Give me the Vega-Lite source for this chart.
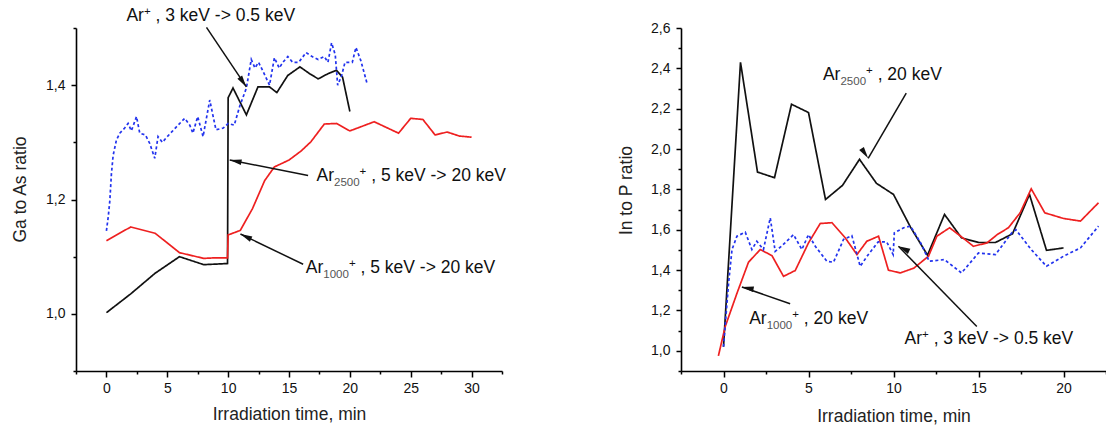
{
  "$schema": "https://vega.github.io/schema/vega-lite/v6.json",
  "autosize": {"type": "none"},
  "padding": {"left": 76, "top": 28, "right": 1030, "bottom": 400},
  "background": "white",
  "config": {
    "view": {"stroke": null},
    "font": "Liberation Sans",
    "axis": {
      "grid": false,
      "domainColor": "#000000",
      "domainWidth": 1.6,
      "tickColor": "#000000",
      "tickWidth": 1.5,
      "labelFont": "Liberation Sans",
      "labelFontSize": 14,
      "labelColor": "#111111",
      "labelFlush": false,
      "labelOverlap": false,
      "titleFont": "Liberation Sans",
      "titleFontSize": 17.5,
      "titleFontWeight": "normal",
      "titleColor": "#222222"
    }
  },
  "spacing": 179,
  "bounds": "flush",
  "datasets": {
    "leftLines": [
      {"series": "Ar2500", "t": 0, "v": 1.002},
      {"series": "Ar2500", "t": 2, "v": 1.035},
      {"series": "Ar2500", "t": 4, "v": 1.071},
      {"series": "Ar2500", "t": 6, "v": 1.1},
      {"series": "Ar2500", "t": 8, "v": 1.086},
      {"series": "Ar2500", "t": 9.95, "v": 1.088},
      {"series": "Ar2500", "t": 10, "v": 1.378},
      {"series": "Ar2500", "t": 10.4, "v": 1.395},
      {"series": "Ar2500", "t": 11.5, "v": 1.348},
      {"series": "Ar2500", "t": 12.45, "v": 1.397},
      {"series": "Ar2500", "t": 13.4, "v": 1.397},
      {"series": "Ar2500", "t": 14, "v": 1.387},
      {"series": "Ar2500", "t": 14.9, "v": 1.417},
      {"series": "Ar2500", "t": 15.9, "v": 1.432},
      {"series": "Ar2500", "t": 16.7, "v": 1.42},
      {"series": "Ar2500", "t": 17.4, "v": 1.411},
      {"series": "Ar2500", "t": 18.2, "v": 1.42},
      {"series": "Ar2500", "t": 18.9, "v": 1.426},
      {"series": "Ar2500", "t": 19.4, "v": 1.414},
      {"series": "Ar2500", "t": 20, "v": 1.354},
      {"series": "Ar1000", "t": 0, "v": 1.128},
      {"series": "Ar1000", "t": 2, "v": 1.152},
      {"series": "Ar1000", "t": 4, "v": 1.141},
      {"series": "Ar1000", "t": 6, "v": 1.107},
      {"series": "Ar1000", "t": 8, "v": 1.097},
      {"series": "Ar1000", "t": 9, "v": 1.098},
      {"series": "Ar1000", "t": 9.95, "v": 1.098},
      {"series": "Ar1000", "t": 10, "v": 1.138},
      {"series": "Ar1000", "t": 11, "v": 1.146},
      {"series": "Ar1000", "t": 12, "v": 1.184},
      {"series": "Ar1000", "t": 13, "v": 1.233},
      {"series": "Ar1000", "t": 13.8, "v": 1.257},
      {"series": "Ar1000", "t": 15, "v": 1.269},
      {"series": "Ar1000", "t": 16, "v": 1.285},
      {"series": "Ar1000", "t": 16.8, "v": 1.301},
      {"series": "Ar1000", "t": 17.9, "v": 1.332},
      {"series": "Ar1000", "t": 18.9, "v": 1.333},
      {"series": "Ar1000", "t": 20, "v": 1.32},
      {"series": "Ar1000", "t": 22, "v": 1.336},
      {"series": "Ar1000", "t": 24, "v": 1.316},
      {"series": "Ar1000", "t": 25, "v": 1.342},
      {"series": "Ar1000", "t": 26, "v": 1.34},
      {"series": "Ar1000", "t": 27, "v": 1.313},
      {"series": "Ar1000", "t": 28, "v": 1.318},
      {"series": "Ar1000", "t": 29, "v": 1.311},
      {"series": "Ar1000", "t": 30, "v": 1.309},
      {"series": "Ar+", "t": 0, "v": 1.145},
      {"series": "Ar+", "t": 0.15, "v": 1.17},
      {"series": "Ar+", "t": 0.28, "v": 1.198},
      {"series": "Ar+", "t": 0.41, "v": 1.245},
      {"series": "Ar+", "t": 0.55, "v": 1.277},
      {"series": "Ar+", "t": 0.82, "v": 1.304},
      {"series": "Ar+", "t": 1.1, "v": 1.316},
      {"series": "Ar+", "t": 1.5, "v": 1.325},
      {"series": "Ar+", "t": 1.78, "v": 1.333},
      {"series": "Ar+", "t": 2.05, "v": 1.32},
      {"series": "Ar+", "t": 2.47, "v": 1.345},
      {"series": "Ar+", "t": 2.74, "v": 1.316},
      {"series": "Ar+", "t": 3.2, "v": 1.313},
      {"series": "Ar+", "t": 3.56, "v": 1.298},
      {"series": "Ar+", "t": 3.97, "v": 1.272},
      {"series": "Ar+", "t": 4.24, "v": 1.31},
      {"series": "Ar+", "t": 4.6, "v": 1.3},
      {"series": "Ar+", "t": 5.0, "v": 1.31},
      {"series": "Ar+", "t": 5.75, "v": 1.327},
      {"series": "Ar+", "t": 6.43, "v": 1.342},
      {"series": "Ar+", "t": 6.85, "v": 1.33},
      {"series": "Ar+", "t": 7.1, "v": 1.316},
      {"series": "Ar+", "t": 7.5, "v": 1.345},
      {"series": "Ar+", "t": 7.94, "v": 1.31},
      {"series": "Ar+", "t": 8.49, "v": 1.374},
      {"series": "Ar+", "t": 8.77, "v": 1.345},
      {"series": "Ar+", "t": 9.0, "v": 1.322},
      {"series": "Ar+", "t": 9.6, "v": 1.325},
      {"series": "Ar+", "t": 10.0, "v": 1.333},
      {"series": "Ar+", "t": 10.5, "v": 1.33},
      {"series": "Ar+", "t": 10.95, "v": 1.363},
      {"series": "Ar+", "t": 11.5, "v": 1.395},
      {"series": "Ar+", "t": 11.9, "v": 1.445},
      {"series": "Ar+", "t": 12.2, "v": 1.43},
      {"series": "Ar+", "t": 12.5, "v": 1.44},
      {"series": "Ar+", "t": 12.87, "v": 1.424},
      {"series": "Ar+", "t": 13.4, "v": 1.4},
      {"series": "Ar+", "t": 13.8, "v": 1.448},
      {"series": "Ar+", "t": 14.2, "v": 1.43},
      {"series": "Ar+", "t": 14.5, "v": 1.44},
      {"series": "Ar+", "t": 14.9, "v": 1.45},
      {"series": "Ar+", "t": 15.3, "v": 1.44},
      {"series": "Ar+", "t": 15.8, "v": 1.44},
      {"series": "Ar+", "t": 16.4, "v": 1.457},
      {"series": "Ar+", "t": 16.9, "v": 1.45},
      {"series": "Ar+", "t": 17.4, "v": 1.445},
      {"series": "Ar+", "t": 17.9, "v": 1.45},
      {"series": "Ar+", "t": 18.2, "v": 1.44},
      {"series": "Ar+", "t": 18.5, "v": 1.474},
      {"series": "Ar+", "t": 18.8, "v": 1.453},
      {"series": "Ar+", "t": 19.0, "v": 1.4},
      {"series": "Ar+", "t": 19.3, "v": 1.415},
      {"series": "Ar+", "t": 19.6, "v": 1.44},
      {"series": "Ar+", "t": 20.2, "v": 1.44},
      {"series": "Ar+", "t": 20.5, "v": 1.466},
      {"series": "Ar+", "t": 20.9, "v": 1.443},
      {"series": "Ar+", "t": 21.4, "v": 1.404}
    ],
    "rightLines": [
      {"series": "Ar2500", "t": 0, "v": 1.02},
      {"series": "Ar2500", "t": 1, "v": 2.43},
      {"series": "Ar2500", "t": 2, "v": 1.886},
      {"series": "Ar2500", "t": 3, "v": 1.858},
      {"series": "Ar2500", "t": 4, "v": 2.222},
      {"series": "Ar2500", "t": 5, "v": 2.181},
      {"series": "Ar2500", "t": 6, "v": 1.75},
      {"series": "Ar2500", "t": 7, "v": 1.82},
      {"series": "Ar2500", "t": 8, "v": 1.949},
      {"series": "Ar2500", "t": 9, "v": 1.83},
      {"series": "Ar2500", "t": 10, "v": 1.775},
      {"series": "Ar2500", "t": 11, "v": 1.613},
      {"series": "Ar2500", "t": 12, "v": 1.474},
      {"series": "Ar2500", "t": 13, "v": 1.676},
      {"series": "Ar2500", "t": 14, "v": 1.56},
      {"series": "Ar2500", "t": 15, "v": 1.537},
      {"series": "Ar2500", "t": 16, "v": 1.537},
      {"series": "Ar2500", "t": 17, "v": 1.58},
      {"series": "Ar2500", "t": 18, "v": 1.775},
      {"series": "Ar2500", "t": 19, "v": 1.498},
      {"series": "Ar2500", "t": 20, "v": 1.51},
      {"series": "Ar1000", "t": -0.3, "v": 0.975},
      {"series": "Ar1000", "t": 0.1, "v": 1.12},
      {"series": "Ar1000", "t": 0.8, "v": 1.287},
      {"series": "Ar1000", "t": 1.47, "v": 1.439},
      {"series": "Ar1000", "t": 2.16, "v": 1.502},
      {"series": "Ar1000", "t": 2.85, "v": 1.472},
      {"series": "Ar1000", "t": 3.53, "v": 1.369},
      {"series": "Ar1000", "t": 4.22, "v": 1.398},
      {"series": "Ar1000", "t": 5.0, "v": 1.535},
      {"series": "Ar1000", "t": 5.69, "v": 1.631},
      {"series": "Ar1000", "t": 6.38, "v": 1.635},
      {"series": "Ar1000", "t": 7.16, "v": 1.56},
      {"series": "Ar1000", "t": 7.85, "v": 1.477},
      {"series": "Ar1000", "t": 8.43, "v": 1.543},
      {"series": "Ar1000", "t": 9.12, "v": 1.568},
      {"series": "Ar1000", "t": 9.7, "v": 1.4},
      {"series": "Ar1000", "t": 10.4, "v": 1.386},
      {"series": "Ar1000", "t": 11.2, "v": 1.41},
      {"series": "Ar1000", "t": 12.06, "v": 1.469},
      {"series": "Ar1000", "t": 12.55, "v": 1.568},
      {"series": "Ar1000", "t": 13.3, "v": 1.61},
      {"series": "Ar1000", "t": 14.2, "v": 1.552},
      {"series": "Ar1000", "t": 14.7, "v": 1.518},
      {"series": "Ar1000", "t": 15.5, "v": 1.535},
      {"series": "Ar1000", "t": 16.1, "v": 1.576},
      {"series": "Ar1000", "t": 16.76, "v": 1.61},
      {"series": "Ar1000", "t": 17.45, "v": 1.684},
      {"series": "Ar1000", "t": 18.1, "v": 1.803},
      {"series": "Ar1000", "t": 18.9, "v": 1.684},
      {"series": "Ar1000", "t": 20, "v": 1.656},
      {"series": "Ar1000", "t": 21, "v": 1.643},
      {"series": "Ar1000", "t": 22.06, "v": 1.734},
      {"series": "Ar+", "t": 0, "v": 1.02},
      {"series": "Ar+", "t": 0.3, "v": 1.336},
      {"series": "Ar+", "t": 0.5, "v": 1.502},
      {"series": "Ar+", "t": 0.79, "v": 1.568},
      {"series": "Ar+", "t": 1.28, "v": 1.588},
      {"series": "Ar+", "t": 1.67, "v": 1.502},
      {"series": "Ar+", "t": 1.96, "v": 1.543},
      {"series": "Ar+", "t": 2.35, "v": 1.502},
      {"series": "Ar+", "t": 2.75, "v": 1.659},
      {"series": "Ar+", "t": 3.04, "v": 1.493},
      {"series": "Ar+", "t": 3.43, "v": 1.52},
      {"series": "Ar+", "t": 4.12, "v": 1.576},
      {"series": "Ar+", "t": 4.61, "v": 1.502},
      {"series": "Ar+", "t": 5.0, "v": 1.576},
      {"series": "Ar+", "t": 5.4, "v": 1.518},
      {"series": "Ar+", "t": 6.08, "v": 1.444},
      {"series": "Ar+", "t": 6.47, "v": 1.439},
      {"series": "Ar+", "t": 7.06, "v": 1.552},
      {"series": "Ar+", "t": 7.55, "v": 1.571},
      {"series": "Ar+", "t": 8.04, "v": 1.419},
      {"series": "Ar+", "t": 8.5, "v": 1.475},
      {"series": "Ar+", "t": 9.1, "v": 1.54},
      {"series": "Ar+", "t": 9.6, "v": 1.54},
      {"series": "Ar+", "t": 9.98, "v": 1.477},
      {"series": "Ar+", "t": 10.05, "v": 1.585},
      {"series": "Ar+", "t": 10.6, "v": 1.61},
      {"series": "Ar+", "t": 11.0, "v": 1.618},
      {"series": "Ar+", "t": 11.6, "v": 1.535},
      {"series": "Ar+", "t": 12.1, "v": 1.444},
      {"series": "Ar+", "t": 13.0, "v": 1.452},
      {"series": "Ar+", "t": 14.0, "v": 1.386},
      {"series": "Ar+", "t": 15.0, "v": 1.485},
      {"series": "Ar+", "t": 16.0, "v": 1.477},
      {"series": "Ar+", "t": 16.96, "v": 1.585},
      {"series": "Ar+", "t": 17.2, "v": 1.6},
      {"series": "Ar+", "t": 18.1, "v": 1.502},
      {"series": "Ar+", "t": 19.0, "v": 1.419},
      {"series": "Ar+", "t": 20.0, "v": 1.469},
      {"series": "Ar+", "t": 21.0, "v": 1.51},
      {"series": "Ar+", "t": 22.06, "v": 1.618}
    ],
    "leftArrows": [
      {"label": "a1", "t": 11.5, "v": 1.397, "t0": 8.22, "v0": 1.501},
      {"label": "a2", "t": 10.13, "v": 1.269, "t0": 16.57, "v0": 1.242},
      {"label": "a3", "t": 11.01, "v": 1.1396, "t0": 16.16, "v0": 1.0867}
    ],
    "rightArrows": [
      {"label": "a4", "t": 8.51, "v": 1.954, "t0": 10.75, "v0": 2.277},
      {"label": "a5", "t": 1.08, "v": 1.3165, "t0": 3.92, "v0": 1.2335},
      {"label": "a6", "t": 10.29, "v": 1.518, "t0": 14.9, "v0": 1.121}
    ],
    "leftText": [
      {"t": 1.64, "v": 1.5128, "base": "Ar", "sub": "", "sup": "+", "rest": ", 3 keV -> 0.5 keV"},
      {"t": 17.26, "v": 1.2317, "base": "Ar", "sub": "2500", "sup": "+", "rest": ", 5 keV -> 20 keV"},
      {"t": 16.38, "v": 1.0722, "base": "Ar", "sub": "1000", "sup": "+", "rest": ", 5 keV -> 20 keV"}
    ],
    "rightText": [
      {"t": 5.85, "v": 2.3416, "base": "Ar", "sub": "2500", "sup": "+", "rest": ", 20 keV"},
      {"t": 1.51, "v": 1.1327, "base": "Ar", "sub": "1000", "sup": "+", "rest": ", 20 keV"},
      {"t": 10.65, "v": 1.0333, "base": "Ar", "sub": "", "sup": "+", "rest": ", 3 keV -> 0.5 keV"}
    ]
  },
  "hconcat": [
    {
      "width": 426,
      "height": 343,
      "encoding": {
        "x": {
          "field": "t", "type": "quantitative",
          "scale": {"domain": [-2.5, 32.5], "nice": false, "zero": false},
          "axis": {
            "title": "Irradiation time, min",
            "values": [-2.5, 0, 2.5, 5, 7.5, 10, 12.5, 15, 17.5, 20, 22.5, 25, 27.5, 30, 32.5],
            "labelExpr": "datum.value % 5 == 0 ? format(datum.value, 'd') : ''",
            "tickSize": {"condition": {"test": "datum.value % 5 != 0", "value": 3}, "value": 6},
            "labelPadding": 4,
            "titleY": 48,
            "titleBaseline": "alphabetic"
          }
        },
        "y": {
          "field": "v", "type": "quantitative",
          "scale": {"domain": [0.9, 1.5], "nice": false, "zero": false},
          "axis": {
            "title": "Ga to As ratio",
            "values": [0.9, 1.0, 1.1, 1.2, 1.3, 1.4, 1.5],
            "labelExpr": "round(datum.value*10) % 2 == 1 ? '' : replace(format(datum.value, '.1f'), '.', ',')",
            "tickSize": {"condition": {"test": "round(datum.value*10) % 2 == 1", "value": 3}, "value": 5},
            "labelPadding": 6,
            "titleAngle": 270,
            "titleX": -51,
            "titleY": 161,
            "titleAlign": "center",
            "titleBaseline": "alphabetic"
          }
        }
      },
      "layer": [
        {
          "data": {"name": "leftLines"},
          "mark": {"type": "line", "strokeWidth": 1.7},
          "encoding": {
            "color": {"field": "series", "type": "nominal", "scale": {"domain": ["Ar2500", "Ar1000", "Ar+"], "range": ["#111111", "#ee2020", "#2233ee"]}, "legend": null},
            "strokeDash": {"field": "series", "type": "nominal", "scale": {"domain": ["Ar2500", "Ar1000", "Ar+"], "range": [[1, 0], [1, 0], [3, 2.5]]}, "legend": null}
          }
        },
        {
          "data": {"name": "leftArrows"},
          "mark": {"type": "rule", "color": "#111111", "strokeWidth": 1.5},
          "encoding": {"x2": {"field": "t0"}, "y2": {"field": "v0"}}
        },
        {
          "data": {"name": "leftArrows"},
          "mark": {"type": "point", "shape": "M0,0L0.6,2.5L-0.6,2.5Z", "filled": true, "color": "#111111", "opacity": 1, "size": 90, "strokeWidth": 0},
          "encoding": {
            "angle": {"field": "label", "type": "nominal", "scale": {"type": "ordinal", "domain": ["a1", "a2", "a3"], "range": [145.9, 280.8, 295.6]}, "legend": null}
          }
        },
        {
          "data": {"name": "leftText"},
          "mark": {"type": "text", "fontSize": 17.5, "font": "Liberation Sans", "color": "#111111", "align": "left", "baseline": "alphabetic"},
          "encoding": {"text": {"field": "base"}}
        },
        {
          "data": {"name": "leftText"},
          "mark": {"type": "text", "fontSize": 11.5, "font": "Liberation Sans", "color": "#555555", "align": "left", "baseline": "alphabetic", "dx": 17.5, "dy": 5},
          "encoding": {"text": {"field": "sub"}}
        },
        {
          "data": {"name": "leftText"},
          "mark": {"type": "text", "fontSize": 11.5, "font": "Liberation Sans", "color": "#111111", "align": "left", "baseline": "alphabetic", "dx": {"expr": "datum.sub ? 43.1 : 17.5"}, "dy": -6},
          "encoding": {"text": {"field": "sup"}}
        },
        {
          "data": {"name": "leftText"},
          "mark": {"type": "text", "fontSize": 17.5, "font": "Liberation Sans", "color": "#111111", "align": "left", "baseline": "alphabetic", "dx": {"expr": "datum.sub ? 54.7 : 29.1"}},
          "encoding": {"text": {"field": "rest"}}
        }
      ]
    },
    {
      "width": 425,
      "height": 343,
      "encoding": {
        "x": {
          "field": "t", "type": "quantitative",
          "scale": {"domain": [-2.5, 22.5], "nice": false, "zero": false},
          "axis": {
            "title": "Irradiation time, min",
            "values": [-2.5, 0, 2.5, 5, 7.5, 10, 12.5, 15, 17.5, 20, 22.5],
            "labelExpr": "datum.value % 5 == 0 ? format(datum.value, 'd') : ''",
            "tickSize": {"condition": {"test": "datum.value % 5 != 0", "value": 3}, "value": 6},
            "labelPadding": 4,
            "titleY": 50,
            "titleBaseline": "alphabetic"
          }
        },
        "y": {
          "field": "v", "type": "quantitative",
          "scale": {"domain": [0.9, 2.6], "nice": false, "zero": false},
          "axis": {
            "title": "In to P ratio",
            "values": [0.9, 1.0, 1.1, 1.2, 1.3, 1.4, 1.5, 1.6, 1.7, 1.8, 1.9, 2.0, 2.1, 2.2, 2.3, 2.4, 2.5, 2.6],
            "labelExpr": "round(datum.value*10) % 2 == 1 ? '' : replace(format(datum.value, '.1f'), '.', ',')",
            "tickSize": {"condition": {"test": "round(datum.value*10) % 2 == 1", "value": 3}, "value": 5},
            "labelPadding": 6,
            "titleAngle": 270,
            "titleX": -50,
            "titleY": 162,
            "titleAlign": "center",
            "titleBaseline": "alphabetic"
          }
        }
      },
      "layer": [
        {
          "data": {"name": "rightLines"},
          "mark": {"type": "line", "strokeWidth": 1.7},
          "encoding": {
            "color": {"field": "series", "type": "nominal", "scale": {"domain": ["Ar2500", "Ar1000", "Ar+"], "range": ["#111111", "#ee2020", "#2233ee"]}, "legend": null},
            "strokeDash": {"field": "series", "type": "nominal", "scale": {"domain": ["Ar2500", "Ar1000", "Ar+"], "range": [[1, 0], [1, 0], [3, 2.5]]}, "legend": null}
          }
        },
        {
          "data": {"name": "rightArrows"},
          "mark": {"type": "rule", "color": "#111111", "strokeWidth": 1.5},
          "encoding": {"x2": {"field": "t0"}, "y2": {"field": "v0"}}
        },
        {
          "data": {"name": "rightArrows"},
          "mark": {"type": "point", "shape": "M0,0L0.6,2.5L-0.6,2.5Z", "filled": true, "color": "#111111", "opacity": 1, "size": 90, "strokeWidth": 0},
          "encoding": {
            "angle": {"field": "label", "type": "nominal", "scale": {"type": "ordinal", "domain": ["a4", "a5", "a6"], "range": [210.3, 289.1, 315.6]}, "legend": null}
          }
        },
        {
          "data": {"name": "rightText"},
          "mark": {"type": "text", "fontSize": 17.5, "font": "Liberation Sans", "color": "#111111", "align": "left", "baseline": "alphabetic"},
          "encoding": {"text": {"field": "base"}}
        },
        {
          "data": {"name": "rightText"},
          "mark": {"type": "text", "fontSize": 11.5, "font": "Liberation Sans", "color": "#555555", "align": "left", "baseline": "alphabetic", "dx": 17.5, "dy": 5},
          "encoding": {"text": {"field": "sub"}}
        },
        {
          "data": {"name": "rightText"},
          "mark": {"type": "text", "fontSize": 11.5, "font": "Liberation Sans", "color": "#111111", "align": "left", "baseline": "alphabetic", "dx": {"expr": "datum.sub ? 43.1 : 17.5"}, "dy": -6},
          "encoding": {"text": {"field": "sup"}}
        },
        {
          "data": {"name": "rightText"},
          "mark": {"type": "text", "fontSize": 17.5, "font": "Liberation Sans", "color": "#111111", "align": "left", "baseline": "alphabetic", "dx": {"expr": "datum.sub ? 54.7 : 29.1"}},
          "encoding": {"text": {"field": "rest"}}
        }
      ]
    }
  ]
}
